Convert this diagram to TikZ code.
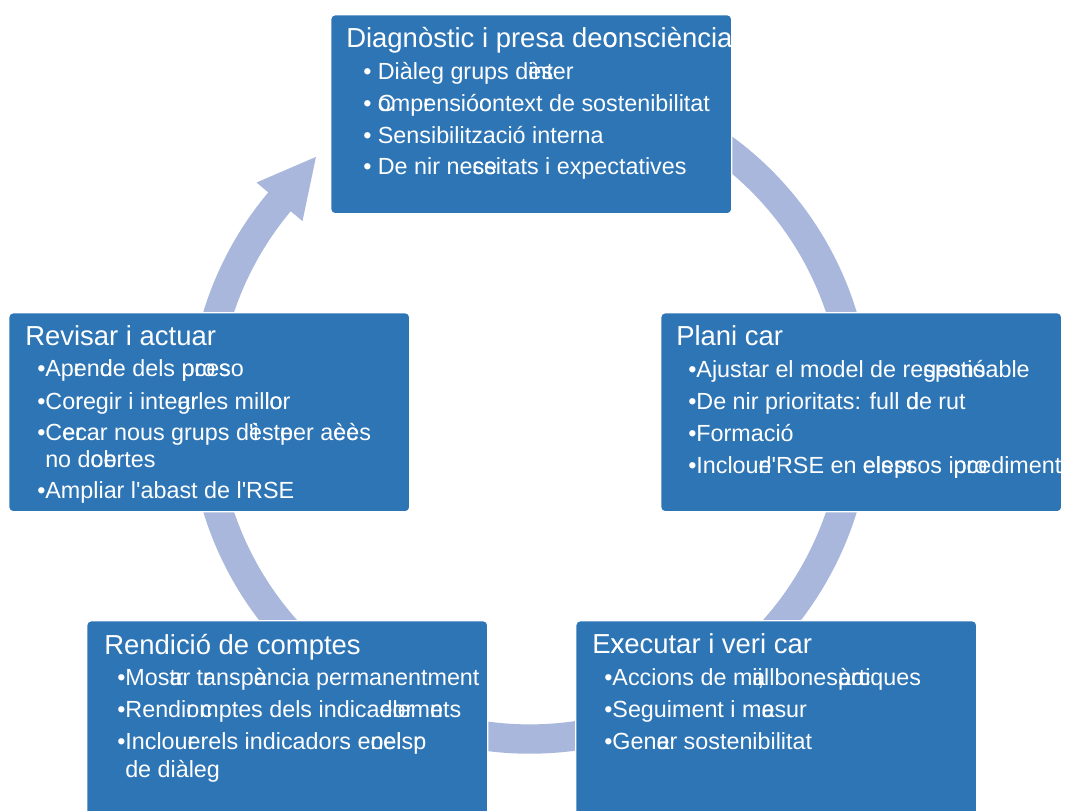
\documentclass[tikz,border=0pt]{standalone}
\usepackage{fontspec}
\setmainfont{Liberation Sans}[Ligatures=TeXOff]
\usetikzlibrary{calc}
\definecolor{boxblue}{HTML}{2E75B6}
\definecolor{ringblue}{HTML}{A8B7DB}
\begin{document}
\begin{tikzpicture}[x=0.75pt,y=-0.75pt,
  box/.style={draw=white, line width=1.1pt, fill=boxblue, rounded corners=3pt,
    anchor=north west, minimum width=300.75pt, minimum height=149.25pt, inner sep=0pt},
  tallbox/.style={box, minimum height=160pt},
  ttl/.style={anchor=base west, inner sep=0pt, text=white, font=\fontsize{20.6}{24}\selectfont},
  itm/.style={anchor=base west, inner sep=0pt, text=white, font=\fontsize{17.5}{21}\selectfont},
  ring/.style={draw=ringblue, line width=22pt}]
\useasboundingbox (0,0) rectangle (1065,811);
\fill[white] (0,0) rectangle (1065,811);
% cycle ring
\coordinate (c) at (530,412);
\draw[ring] ($(c)+(-60:327)$) arc[start angle=-60, end angle=221, radius=327];
\fill[ringblue] ($(c)+(220:357)$) -- ($(c)+(230:333)$) -- ($(c)+(220:297)$) -- cycle;
% boxes
\node[box] (b1) at (330,14) {};
\node[box] (b2) at (660,312) {};
\node[box] (b3) at (8,312) {};
\node[tallbox] (b4) at (86,620) {};
\node[tallbox] (b5) at (575,620) {};
% box 1
\node[ttl] (t1) at (346,47) {Diagnòstic i presa de\rlap{c}onsciència};
\node[itm] (t1a) at (363,79) {• Diàleg grups d\rlap{ès}inter};
\node[itm] (t1b) at (363,111) {• \rlap{C}omp\rlap{r}ensió\rlap{c}ontext de sostenibilitat};
\node[itm] (t1c) at (363,143) {• Sensibilització interna};
\node[itm] (t1d) at (363,174) {• De nir ne\rlap{ce}ssitats i expectatives};
% box 2
\node[ttl] (t2) at (676,345) {Plani car};
\node[itm] (t2a) at (688,377) {•Ajustar el model de re\rlap{gestió}sponsable};
\node[itm] (t2b) at (688,409) {•De nir prioritats: full \rlap{d}de rut};
\node[itm] (t2c) at (688,441) {•Formació};
\node[itm] (t2d) at (688,473) {•Inclou\rlap{e}rl'RSE en \rlap{els}ele\rlap{pr}ssos i\rlap{pro}pcediments};
% box 3
\node[ttl] (t3) at (25,345) {Revisar i actuar};
\node[itm] (t3a) at (37,376) {•Ap\rlap{r}en\rlap{d}de dels \rlap{pro}pce\rlap{s}so};
\node[itm] (t3b) at (37,409) {•Co\rlap{r}regir i inte\rlap{ar}grles mil\rlap{lo}lor};
\node[itm] (t3c) at (37,440) {•C\rlap{e}e\rlap{r}car nous grups d\rlap{'i}èst\rlap{e}per a\rlap{c}è\rlap{c}ès};
\node[itm] (t3d) at (45,467) {no d\rlap{c}o\rlap{b}ertes};
\node[itm] (t3e) at (37,498) {•Ampliar l'abast de l'RSE};
% box 4
\node[ttl] (t4) at (104,654) {Rendició de comptes};
\node[itm] (t4a) at (117,685) {•Mos\rlap{tr}ar t\rlap{r}ansp\rlap{è}ància permanentment};
\node[itm] (t4b) at (117,717) {•Rendi\rlap{r c}omptes dels indica\rlap{dor}elem\rlap{e}nts};
\node[itm] (t4c) at (117,749) {•Inclou\rlap{r}erels indicadors e\rlap{n}o\rlap{el}els\rlap{p}r};
\node[itm] (t4d) at (125,777) {de diàleg};
% box 5
\node[ttl] (t5) at (592,653) {E\rlap{x}xecutar i veri car};
\node[itm] (t5a) at (604,685) {•Accions de m\rlap{a}i\rlap{i},llbones\rlap{à}p\rlap{o}r\rlap{c}tiques};
\node[itm] (t5b) at (604,717) {•Seguiment i m\rlap{a}esur};
\node[itm] (t5c) at (604,749) {•Gen\rlap{e}ar sostenibilitat};
\end{tikzpicture}
\end{document}
